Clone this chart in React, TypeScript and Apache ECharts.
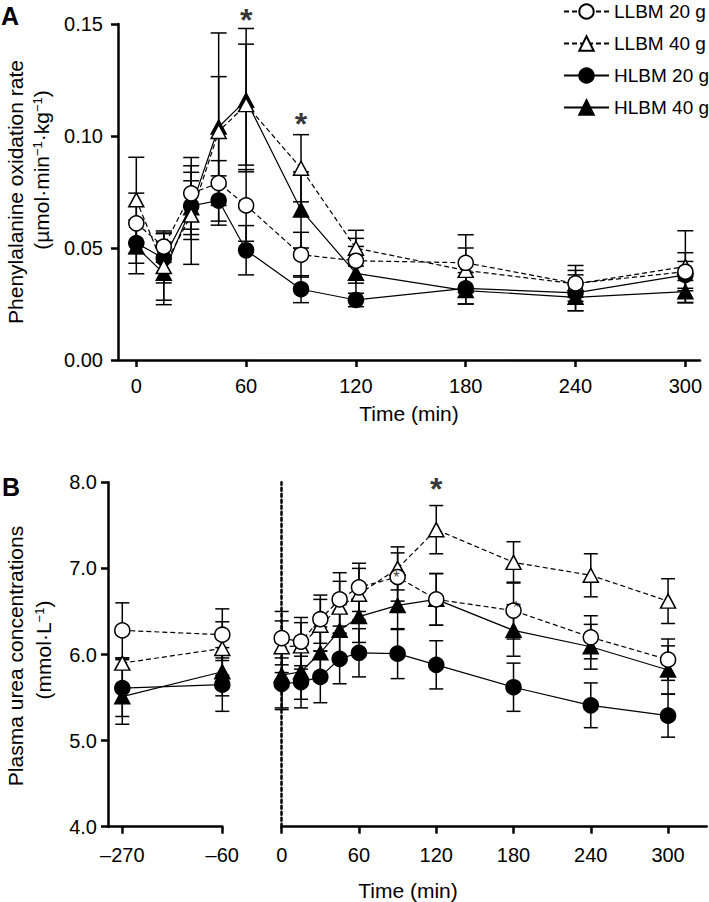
import React, { useEffect, useRef } from "react";
import * as echarts from "echarts";

// ---------- Panel A: phenylalanine oxidation rate ----------
const timesA = [0, 15, 30, 45, 60, 90, 120, 180, 240, 300];
const llbm20A = [0.061, 0.0506, 0.0744, 0.079, 0.069, 0.047, 0.0443, 0.0434, 0.0342, 0.0394];
const llbm40A = [0.0715, 0.0417, 0.0647, 0.102, 0.114, 0.0856, 0.0499, 0.040, 0.034, 0.0417];
const hlbm20A = [0.0522, 0.0454, 0.0688, 0.0712, 0.049, 0.0316, 0.0268, 0.032, 0.030, 0.038];
const hlbm40A = [0.0505, 0.0387, 0.068, 0.104, 0.116, 0.067, 0.0387, 0.031, 0.028, 0.0305];
const llbm20AE = [0.0135, 0.007, 0.016, 0.010, 0.016, 0.010, 0.010, 0.0125, 0.008, 0.0085];
const llbm40AE = [0.019, 0.015, 0.022, 0.0245, 0.027, 0.015, 0.008, 0.010, 0.006, 0.016];
const hlbm20AE = [0.009, 0.011, 0.015, 0.011, 0.011, 0.006, 0.003, 0.007, 0.008, 0.006];
const hlbm40AE = [0.012, 0.014, 0.012, 0.042, 0.032, 0.017, 0.012, 0.006, 0.006, 0.005];
const ticksA = [0, 60, 120, 180, 240, 300];

// ---------- Panel B: plasma urea ----------
const timesBPre = [-270, -60];
const llbm20BPre = [6.28, 6.23];
const llbm40BPre = [5.90, 6.07];
const hlbm20BPre = [5.61, 5.65];
const hlbm40BPre = [5.51, 5.80];
const llbm20BPreE = [0.32, 0.30];
const llbm40BPreE = [0.06, 0.31];
const hlbm20BPreE = [0.33, 0.31];
const hlbm40BPreE = [0.32, 0.28];
const ticksBPre = [-270, -60];

const timesB = [0, 15, 30, 45, 60, 90, 120, 180, 240, 300];
const llbm20B = [6.19, 6.15, 6.41, 6.64, 6.78, 6.90, 6.64, 6.51, 6.20, 5.94];
const llbm40B = [6.09, 6.10, 6.34, 6.55, 6.70, 7.00, 7.45, 7.07, 6.92, 6.62];
const hlbm20B = [5.66, 5.68, 5.74, 5.95, 6.02, 6.01, 5.88, 5.62, 5.41, 5.29];
const hlbm40B = [5.76, 5.80, 6.02, 6.28, 6.44, 6.57, 6.64, 6.28, 6.09, 5.82];
const llbm20BE = [0.31, 0.28, 0.28, 0.31, 0.28, 0.28, 0.30, 0.33, 0.25, 0.24];
const llbm40BE = [0.30, 0.27, 0.30, 0.30, 0.30, 0.25, 0.28, 0.24, 0.25, 0.26];
const hlbm20BE = [0.30, 0.30, 0.30, 0.29, 0.28, 0.29, 0.28, 0.28, 0.26, 0.25];
const hlbm40BE = [0.38, 0.32, 0.30, 0.30, 0.30, 0.28, 0.30, 0.30, 0.26, 0.28];
const ticksB = [0, 60, 120, 180, 240, 300];

// significance marks (data coordinates)
const asteriskA = [[60, 0.152], [90, 0.1055]];
const asteriskB = [[120, 7.92]];
const smallAsteriskB = [[89, 6.90], [182, 6.55]];

const legendNames = ["LLBM 20 g", "LLBM 40 g", "HLBM 20 g", "HLBM 40 g"];

const FONT = "'Liberation Sans', Arial, Helvetica, sans-serif";
const TICK_FS = 20;
const TITLE_FS = 21;

type Def = {
  name: string; symbol: string; open: boolean; dashed: boolean;
  a: number[]; aE: number[]; pre: number[]; preE: number[]; post: number[]; postE: number[];
};

// drawing order: last is on top
const defs: Def[] = [
  { name: "HLBM 40 g", symbol: "triangle", open: false, dashed: false, a: hlbm40A, aE: hlbm40AE, pre: hlbm40BPre, preE: hlbm40BPreE, post: hlbm40B, postE: hlbm40BE },
  { name: "HLBM 20 g", symbol: "circle", open: false, dashed: false, a: hlbm20A, aE: hlbm20AE, pre: hlbm20BPre, preE: hlbm20BPreE, post: hlbm20B, postE: hlbm20BE },
  { name: "LLBM 40 g", symbol: "triangle", open: true, dashed: true, a: llbm40A, aE: llbm40AE, pre: llbm40BPre, preE: llbm40BPreE, post: llbm40B, postE: llbm40BE },
  { name: "LLBM 20 g", symbol: "circle", open: true, dashed: true, a: llbm20A, aE: llbm20AE, pre: llbm20BPre, preE: llbm20BPreE, post: llbm20B, postE: llbm20BE },
];

const pairs = (xs: number[], ys: number[]) => xs.map((x, i) => [x, ys[i]]);
const errs = (xs: number[], ys: number[], es: number[]) => xs.map((x, i) => [x, ys[i] - es[i], ys[i] + es[i]]);

const errorRender = (capHalf: number) => (params: any, api: any) => {
  const x = api.value(0);
  const p1 = api.coord([x, api.value(1)]);
  const p2 = api.coord([x, api.value(2)]);
  const style = { stroke: "#000", lineWidth: 1.5 };
  return {
    type: "group",
    children: [
      { type: "line", shape: { x1: p1[0], y1: p1[1], x2: p2[0], y2: p2[1] }, style },
      { type: "line", shape: { x1: p1[0] - capHalf, y1: p1[1], x2: p1[0] + capHalf, y2: p1[1] }, style },
      { type: "line", shape: { x1: p2[0] - capHalf, y1: p2[1], x2: p2[0] + capHalf, y2: p2[1] }, style },
    ],
  };
};

const AX = { color: "#000", width: 2.5 };

function textEl(x: number, y: number, text: string, fontSize: number, extra: any = {}, rotation = 0) {
  return {
    type: "text", x, y, rotation,
    style: {
      text, fontSize, fontFamily: FONT, fill: "#000",
      textAlign: "center", textVerticalAlign: "middle", align: "center", verticalAlign: "middle",
      ...extra,
    },
  };
}

function buildOption() {
  const series: any[] = [];
  const panels = [
    { key: "a", keyE: "aE", xs: timesA, idx: 0, cap: 8 },
    { key: "pre", keyE: "preE", xs: timesBPre, idx: 1, cap: 7 },
    { key: "post", keyE: "postE", xs: timesB, idx: 2, cap: 7 },
  ];
  panels.forEach((p) => {
    defs.forEach((d) => {
      series.push({
        type: "line",
        name: d.name,
        xAxisIndex: p.idx,
        yAxisIndex: p.idx,
        data: pairs(p.xs, (d as any)[p.key]),
        symbol: d.symbol,
        symbolSize: d.symbol === "circle" ? 15 : [15, 14],
        showSymbol: true,
        z: 3,
        clip: false,
        itemStyle: { color: d.open ? "#fff" : "#000", borderColor: "#000", borderWidth: 1.5, opacity: 1 },
        lineStyle: { color: "#000", width: 1.2, type: d.dashed ? [5, 3] : "solid" },
        emphasis: { disabled: true },
      });
    });
  });
  panels.forEach((p) => {
    defs.forEach((d) => {
      series.push({
        type: "custom",
        name: d.name + " error",
        xAxisIndex: p.idx,
        yAxisIndex: p.idx,
        z: 2,
        silent: true,
        clip: false,
        data: errs(p.xs, (d as any)[p.key], (d as any)[p.keyE]),
        encode: { x: 0, y: [1, 2] },
        renderItem: errorRender(p.cap),
      });
    });
  });
  const star = (data: number[][], idx: number, size: number, bold: boolean) => ({
    type: "scatter",
    xAxisIndex: idx,
    yAxisIndex: idx,
    data,
    symbolSize: 1,
    itemStyle: { color: "rgba(0,0,0,0)" },
    silent: true,
    clip: false,
    z: 5,
    label: {
      show: true,
      position: "inside",
      formatter: "*",
      fontSize: size,
      fontWeight: bold ? "bold" : "normal",
      color: "#000",
      fontFamily: FONT,
    },
  });
  series.push(star(asteriskA, 0, 32, true));
  series.push(star(asteriskB, 2, 32, true));
  series.push(star(smallAsteriskB, 2, 16, false));

  const labelStyle = { color: "#000", fontSize: TICK_FS, fontFamily: FONT };
  const sup = { s: { fontSize: 13, fontFamily: FONT, fill: "#000", verticalAlign: "top", lineHeight: 21 } };

  return {
    animation: false,
    backgroundColor: "#fff",
    legend: {
      data: legendNames,
      orient: "vertical",
      left: 563,
      top: 2,
      padding: 0,
      itemWidth: 45,
      itemHeight: 18,
      itemGap: 13,
      selectedMode: false,
      textStyle: { color: "#000", fontSize: 19, fontFamily: FONT },
    },
    grid: [
      { left: 118, top: 24, width: 582, height: 336 },
      { left: 108, top: 482.3, width: 114.3, height: 344.4 },
      { left: 281.7, top: 482.3, width: 425, height: 344.4 },
    ],
    xAxis: [
      {
        gridIndex: 0, type: "value", min: -10, max: 308,
        axisLine: { show: true, onZero: false, lineStyle: AX },
        axisTick: { show: true, length: 7, lineStyle: AX, customValues: ticksA },
        axisLabel: { ...labelStyle, margin: 16, customValues: ticksA },
        splitLine: { show: false },
      },
      {
        gridIndex: 1, type: "value", min: -300, max: -60,
        axisLine: { show: true, onZero: false, lineStyle: AX },
        axisTick: { show: true, length: 7, lineStyle: AX, customValues: ticksBPre },
        axisLabel: { ...labelStyle, margin: 18, customValues: ticksBPre, formatter: (v: number) => String(v).replace("-", "\u2013") },
        splitLine: { show: false },
      },
      {
        gridIndex: 2, type: "value", min: 0, max: 330,
        axisLine: { show: true, onZero: false, lineStyle: AX },
        axisTick: { show: true, length: 7, lineStyle: AX, customValues: ticksB },
        axisLabel: { ...labelStyle, margin: 18, customValues: ticksB },
        splitLine: { show: false },
      },
    ],
    yAxis: [
      {
        gridIndex: 0, type: "value", min: 0, max: 0.15, interval: 0.05,
        axisLine: { show: true, onZero: false, lineStyle: AX },
        axisTick: { show: true, length: 7, lineStyle: AX },
        axisLabel: { ...labelStyle, margin: 15, formatter: (v: number) => v.toFixed(2) },
        splitLine: { show: false },
      },
      {
        gridIndex: 1, type: "value", min: 4, max: 8, interval: 1,
        axisLine: { show: true, onZero: false, lineStyle: AX },
        axisTick: { show: true, length: 7, lineStyle: AX },
        axisLabel: { ...labelStyle, margin: 11, formatter: (v: number) => v.toFixed(1) },
        splitLine: { show: false },
      },
      {
        gridIndex: 2, type: "value", min: 4, max: 8, interval: 1,
        axisLine: { show: true, onZero: false, lineStyle: { color: "#000", width: 2.5, type: [3, 3] } },
        axisTick: { show: false },
        axisLabel: { show: false },
        splitLine: { show: false },
      },
    ],
    graphic: [
      textEl(1, 16, "A", 25, { fontWeight: "bold", textAlign: "left", align: "left" }),
      textEl(2, 487, "B", 25, { fontWeight: "bold", textAlign: "left", align: "left" }),
      textEl(15, 192, "Phenylalanine oxidation rate", TITLE_FS, {}, Math.PI / 2),
      textEl(41, 170, "(\u00B5mol\u00B7min{s|\u22121}\u00B7kg{s|\u22121})", TITLE_FS, { rich: sup }, Math.PI / 2),
      textEl(15, 656, "Plasma urea concentrations", TITLE_FS, {}, Math.PI / 2),
      textEl(43, 650, "(mmol\u00B7L{s|\u22121})", TITLE_FS, { rich: sup }, Math.PI / 2),
      textEl(409, 413, "Time (min)", TITLE_FS),
      textEl(408, 890, "Time (min)", TITLE_FS),
    ],
    series,
  };
}

export default function App() {
  const ref = useRef<HTMLDivElement>(null);
  useEffect(() => {
    if (!ref.current) return;
    const chart = echarts.init(ref.current, null, { renderer: "svg" });
    chart.setOption(buildOption() as any);
    return () => chart.dispose();
  }, []);
  return (
    <div
      ref={ref}
      style={{ position: "absolute", left: 0, top: 0, width: 709, height: 902, background: "#fff" }}
    />
  );
}
